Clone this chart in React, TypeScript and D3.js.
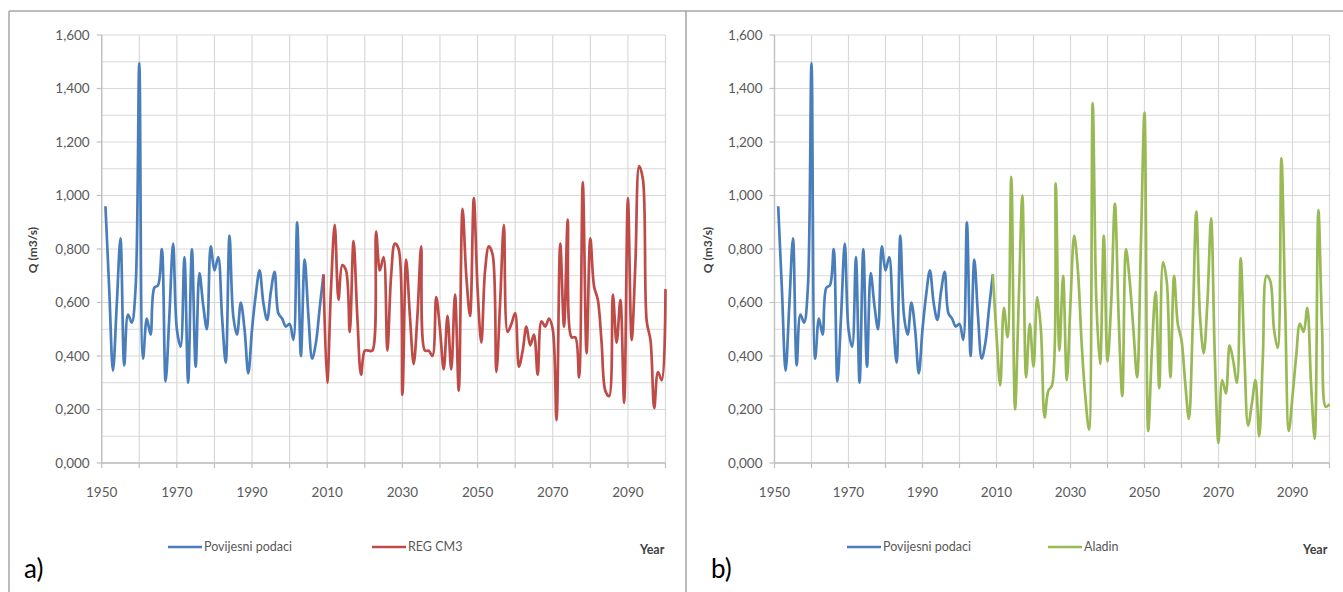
import React from 'react';
import * as d3 from 'd3';

// ---------- data ----------
const historicalYears = d3.range(1951, 2010);
const historicalQ = [
  0.960, 0.650, 0.345, 0.590, 0.840, 0.365, 0.555, 0.525, 0.650, 1.495,
  0.390, 0.540, 0.480, 0.655, 0.665, 0.800, 0.305, 0.550, 0.820, 0.500,
  0.435, 0.770, 0.300, 0.800, 0.360, 0.710, 0.590, 0.500, 0.810, 0.720,
  0.770, 0.550, 0.375, 0.850, 0.550, 0.480, 0.600, 0.500, 0.335, 0.500,
  0.630, 0.720, 0.600, 0.535, 0.640, 0.715, 0.560, 0.540, 0.510, 0.520,
  0.460, 0.900, 0.400, 0.760, 0.550, 0.390, 0.450, 0.580, 0.705,
];

const projectionYears = d3.range(2009, 2101);
const regcm3Q = [
  0.705,
  0.300, 0.650, 0.890, 0.610, 0.740, 0.720, 0.490, 0.830, 0.550, 0.330,
  0.420, 0.420, 0.420, 0.865, 0.720, 0.770, 0.420, 0.700, 0.820, 0.800,
  0.255, 0.760, 0.550, 0.370, 0.550, 0.810, 0.420, 0.420, 0.400, 0.620,
  0.500, 0.350, 0.550, 0.350, 0.630, 0.270, 0.950, 0.700, 0.550, 0.990,
  0.650, 0.450, 0.720, 0.810, 0.780, 0.340, 0.600, 0.890, 0.490, 0.520,
  0.560, 0.360, 0.420, 0.510, 0.440, 0.480, 0.330, 0.530, 0.510, 0.540,
  0.500, 0.160, 0.820, 0.510, 0.910, 0.470, 0.470, 0.320, 1.050, 0.410,
  0.840, 0.660, 0.610, 0.450, 0.270, 0.250, 0.630, 0.450, 0.610, 0.225,
  0.990, 0.460, 0.750, 1.110, 1.060, 0.530, 0.460, 0.205, 0.340, 0.310, 0.650,
];
const aladinQ = [
  0.705,
  0.480, 0.290, 0.580, 0.470, 1.070, 0.200, 0.600, 1.000, 0.320, 0.520,
  0.360, 0.620, 0.500, 0.170, 0.270, 0.290, 1.045, 0.420, 0.700, 0.310,
  0.600, 0.850, 0.720, 0.450, 0.250, 0.125, 1.345, 0.600, 0.370, 0.850,
  0.380, 0.600, 0.970, 0.550, 0.250, 0.800, 0.680, 0.500, 0.320, 0.800,
  1.310, 0.120, 0.420, 0.640, 0.280, 0.750, 0.680, 0.320, 0.700, 0.520,
  0.460, 0.300, 0.165, 0.500, 0.940, 0.550, 0.410, 0.600, 0.915, 0.400,
  0.075, 0.310, 0.260, 0.440, 0.380, 0.300, 0.765, 0.400, 0.140, 0.220,
  0.310, 0.100, 0.400, 0.700, 0.680, 0.500, 0.430, 1.140, 0.600, 0.120,
  0.250, 0.400, 0.520, 0.490, 0.580, 0.300, 0.090, 0.945, 0.500, 0.210, 0.220,
];

const yTicks = [0, 0.2, 0.4, 0.6, 0.8, 1.0, 1.2, 1.4, 1.6];
const yMinorTicks = d3.range(0, 17).map((i) => i / 10);
const xLabelTicks = [1950, 1970, 1990, 2010, 2030, 2050, 2070, 2090];
const xGridTicks = d3.range(1950, 2101, 10);

const HIST_LABEL = 'Povijesni podaci';
const yLabel = 'Q (m3/s)';
const xTitle = 'Year';

const BLUE = '#4a7ebb';
const RED = '#be4b48';
const GREEN = '#98b954';
const FONT = "Lato, 'Open Sans', sans-serif";

const fmtY = (v: number) => v.toFixed(3).replace('.', ',');

type PanelProps = {
  x0: number;
  x1: number;
  projQ: number[];
  projColor: string;
  projLabel: string;
  panelTag: string;
  tagX: number;
  yTitleX: number;
  legendX: number;
  legend2X: number;
  yearX: number;
};

function Panel(p: PanelProps) {
  const x = d3.scaleLinear().domain([1950, 2100]).range([p.x0, p.x1]);
  const y = d3.scaleLinear().domain([0, 1.6]).range([463, 35]);
  const line = d3
    .line<[number, number]>()
    .x((d) => x(d[0]))
    .y((d) => y(d[1]))
    .curve(d3.curveCatmullRom.alpha(0.5));
  const hist = historicalYears.map((yr, i) => [yr, historicalQ[i]] as [number, number]);
  const proj = projectionYears.map((yr, i) => [yr, p.projQ[i]] as [number, number]);

  return (
    <g fontFamily={FONT}>
      {yMinorTicks.map((v) => (
        <line key={'h' + v} x1={p.x0} x2={p.x1} y1={y(v)} y2={y(v)} stroke="#d9d9d9" strokeWidth={1.2} />
      ))}
      {xGridTicks.map((v) => (
        <line key={'v' + v} x1={x(v)} x2={x(v)} y1={y(0)} y2={y(1.6)} stroke="#d9d9d9" strokeWidth={1.2} />
      ))}
      <line x1={p.x0} x2={p.x0} y1={y(0)} y2={y(1.6)} stroke="#bfbfbf" strokeWidth={1.3} />
      <line x1={p.x0} x2={p.x1} y1={y(0)} y2={y(0)} stroke="#bfbfbf" strokeWidth={1.3} />
      {yTicks.map((v) => (
        <line key={'yt' + v} x1={p.x0 - 5} x2={p.x0} y1={y(v)} y2={y(v)} stroke="#bfbfbf" strokeWidth={1.2} />
      ))}
      {xGridTicks.map((v) => (
        <line key={'xt' + v} x1={x(v)} x2={x(v)} y1={y(0)} y2={y(0) + 5} stroke="#bfbfbf" strokeWidth={1.2} />
      ))}
      {yTicks.map((v) => (
        <text key={'yl' + v} x={p.x0 - 12} y={y(v)} dy="0.35em" textAnchor="end" fontSize={13.5} fill="#595959">
          {fmtY(v)}
        </text>
      ))}
      {xLabelTicks.map((v) => (
        <text key={'xl' + v} x={x(v)} y={497} textAnchor="middle" fontSize={13.5} fill="#595959">
          {v}
        </text>
      ))}
      <text
        transform={`translate(${p.yTitleX},250) rotate(-90)`}
        textAnchor="middle"
        fontSize={12}
        fontWeight="bold"
        fill="#404040"
      >
        {yLabel}
      </text>
      <path d={line(hist) || ''} fill="none" stroke={BLUE} strokeWidth={2.7} strokeLinejoin="round" />
      <path d={line(proj) || ''} fill="none" stroke={p.projColor} strokeWidth={2.7} strokeLinejoin="round" />
      <line x1={p.legendX} x2={p.legendX + 34} y1={547} y2={547} stroke={BLUE} strokeWidth={2.7} />
      <text x={p.legendX + 36} y={547} dy="0.35em" fontSize={12.5} fill="#595959">
        {HIST_LABEL}
      </text>
      <line x1={p.legend2X} x2={p.legend2X + 34} y1={547} y2={547} stroke={p.projColor} strokeWidth={2.7} />
      <text x={p.legend2X + 36} y={547} dy="0.35em" fontSize={12.5} fill="#595959">
        {p.projLabel}
      </text>
      <text x={p.yearX} y={554} fontSize={12.5} fontWeight="bold" fill="#404040">
        {xTitle}
      </text>
      <text x={p.tagX} y={578} fontSize={26} fill="#000">
        {p.panelTag}
      </text>
    </g>
  );
}

export default function App() {
  return (
    <svg
      width={1343}
      height={592}
      style={{ position: 'absolute', left: 0, top: 0, background: '#fff' }}
    >
      <rect x={0} y={0} width={1343} height={592} fill="#fff" />
      <line x1={9} x2={1343} y1={11} y2={11} stroke="#a6a6a6" strokeWidth={1.5} />
      <line x1={9} x2={9} y1={11} y2={592} stroke="#a6a6a6" strokeWidth={1.5} />
      <line x1={686} x2={686} y1={11} y2={592} stroke="#a6a6a6" strokeWidth={1.5} />
      <Panel
        x0={101.7}
        x1={665.5}
        projQ={regcm3Q}
        projColor={RED}
        projLabel="REG CM3"
        panelTag="a)"
        tagX={24}
        yTitleX={37}
        legendX={168}
        legend2X={372}
        yearX={640}
      />
      <Panel
        x0={774.5}
        x1={1329.5}
        projQ={aladinQ}
        projColor={GREEN}
        projLabel="Aladin"
        panelTag="b)"
        tagX={711}
        yTitleX={712}
        legendX={847}
        legend2X={1048}
        yearX={1303}
      />
    </svg>
  );
}
